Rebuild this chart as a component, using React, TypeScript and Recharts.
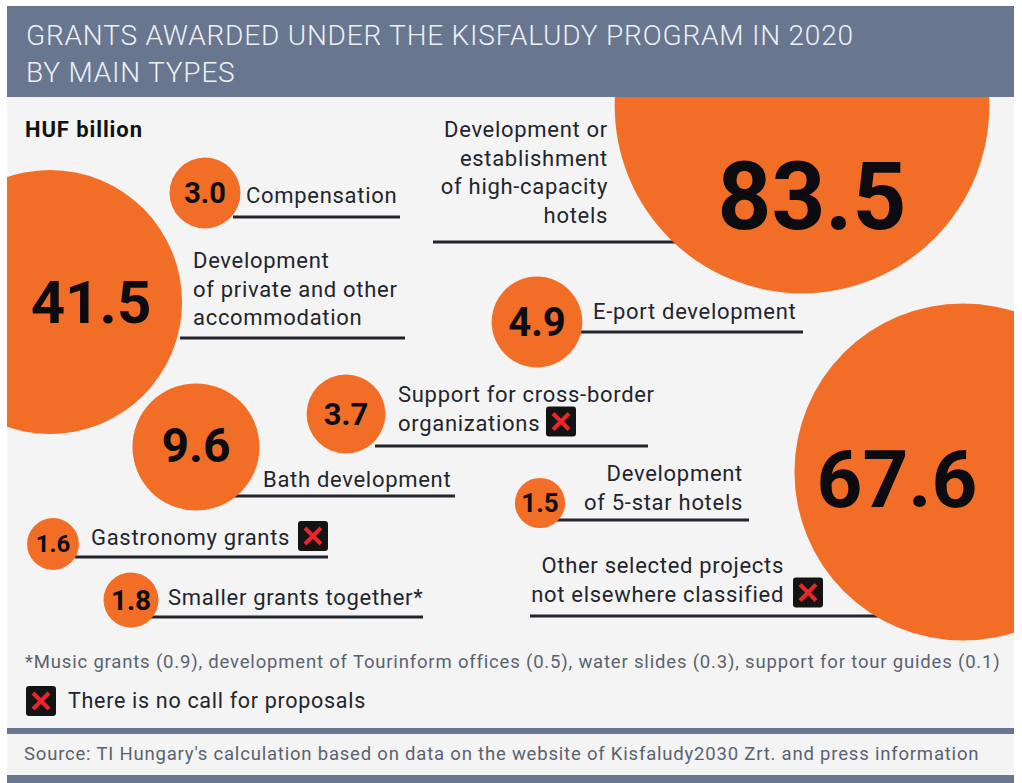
import { ScatterChart, Scatter, XAxis, YAxis, ZAxis } from "recharts";

// grant types, HUF billion
const categories = [
  "Development or establishment of high-capacity hotels",
  "Other selected projects not elsewhere classified",
  "Development of private and other accommodation",
  "Bath development",
  "E-port development",
  "Support for cross-border organizations",
  "Compensation",
  "Smaller grants together*",
  "Gastronomy grants",
  "Development of 5-star hotels",
];
const values = [83.5, 67.6, 41.5, 9.6, 4.9, 3.7, 3.0, 1.8, 1.6, 1.5];
const noCall = [false, true, false, false, false, true, false, false, true, false];
const labelLines = [
  ["Development or", "establishment", "of high-capacity", "hotels"],
  ["Other selected projects", "not elsewhere classified"],
  ["Development", "of private and other", "accommodation"],
  ["Bath development"],
  ["E-port development"],
  ["Support for cross-border", "organizations"],
  ["Compensation"],
  ["Smaller grants together*"],
  ["Gastronomy grants"],
  ["Development", "of 5-star hotels"],
];

const titleLines = ["GRANTS AWARDED UNDER THE KISFALUDY PROGRAM IN 2020", "BY MAIN TYPES"];
const unitLabel = "HUF billion";
const footnote =
  "*Music grants (0.9), development of Tourinform offices (0.5), water slides (0.3), support for tour guides (0.1)";
const legendText = "There is no call for proposals";
const sourceText =
  "Source: TI Hungary's calculation based on data on the website of Kisfaludy2030 Zrt. and press information";

// layout (page pixels)
const bubbleX = [802, 963, 50, 196, 537, 346, 205, 131, 53, 540];
const bubbleY = [106, 472, 302, 447, 322, 414, 193, 600, 544, 503];
const numberDx = [10, -66, 41, 0, 0, 0, 0, 0, 0, 0];
const numberDy = [91, 8, 0, -2, 0, 0, 0, 0, 0, 0];
const numberSize = [94, 80, 60, 48, 40, 31, 29, 28, 24, 26];
const labelX = [608, 784, 193, 263, 593, 398, 246, 168, 91, 743];
const labelY = [137, 573, 268, 487, 319, 402, 203, 605, 545, 481];
const labelAnchor = ["end", "end", "start", "start", "start", "start", "start", "start", "start", "end"];
const boxX = [0, 793, 0, 0, 0, 546, 0, 0, 298, 0];
const ruleFrom = [433, 530, 180, 230, 575, 375, 233, 150, 75, 555];
const ruleTo = [680, 880, 405, 455, 803, 648, 400, 423, 328, 749];
const ruleY = [242, 616, 338, 496, 332, 446, 217, 617, 557, 520];

const W = 1007;
const TOP = 97;
const BOTTOM = 645;
const K = 20.5; // px radius per sqrt(HUF bn)
const maxValue = Math.max(...values);

const ORANGE = "#f26e27";
const INK = "#22252c";
const SLATE = "#68778f";
const GREY_TEXT = "#5a6270";
const FONT = "Roboto, 'Noto Sans', sans-serif";
const LINE_GAP = 28.5;

const rows = categories.map((name, i) => ({
  name,
  value: values[i],
  cx: bubbleX[i],
  cy: bubbleY[i],
  lx: labelX[i],
  ly: labelY[i],
  i,
}));

const XBox = ({ x, y, size = 30 }: { x: number; y: number; size?: number }) => (
  <g>
    <rect x={x} y={y} width={size} height={size} rx={3} fill="#141414" />
    <line x1={x + 7} y1={y + 7} x2={x + size - 7} y2={y + size - 7} stroke="#e8262b" strokeWidth={4} />
    <line x1={x + size - 7} y1={y + 7} x2={x + 7} y2={y + size - 7} stroke="#e8262b" strokeWidth={4} />
  </g>
);

const LabelShape = (props: any) => {
  const { cx, cy, payload } = props;
  const i = payload.i;
  const lines = labelLines[i];
  const last = cy + (lines.length - 1) * LINE_GAP;
  return (
    <g>
      <line
        x1={cx + ruleFrom[i] - labelX[i]}
        x2={cx + ruleTo[i] - labelX[i]}
        y1={cy + ruleY[i] - labelY[i]}
        y2={cy + ruleY[i] - labelY[i]}
        stroke={INK}
        strokeWidth={3}
      />
      <text
        x={cx}
        y={cy}
        textAnchor={labelAnchor[i]}
        fontFamily={FONT}
        fontSize={22}
        letterSpacing={0.7}
        fill={INK}
      >
        {lines.map((t, j) => (
          <tspan key={j} x={cx} y={cy + j * LINE_GAP}>
            {t}
          </tspan>
        ))}
      </text>
      {noCall[i] && <XBox x={cx + boxX[i] - labelX[i]} y={last - 24} />}
    </g>
  );
};

const BubbleShape = (props: any) => {
  const { cx, cy, width, payload } = props;
  const i = payload.i;
  const r = width / 2;
  return (
    <g>
      <circle cx={cx} cy={cy} r={r} fill={ORANGE} />
      <text
        x={cx + numberDx[i]}
        y={cy + numberDy[i]}
        textAnchor="middle"
        dominantBaseline="central"
        fontFamily={FONT}
        fontWeight={700}
        fontSize={numberSize[i]}
        fill="#0c0c10"
      >
        {payload.value.toFixed(1)}
      </text>
    </g>
  );
};

export default function App() {
  return (
    <div
      style={{
        position: "absolute",
        left: 7,
        top: 6,
        width: W,
        height: 777,
        background: "#f4f4f4",
        overflow: "hidden",
        fontFamily: FONT,
      }}
    >
      <svg width={W} height={777} style={{ position: "absolute", left: 0, top: 0 }}>
        <rect x={0} y={0} width={W} height={TOP - 6} fill={SLATE} />
        {titleLines.map((t, j) => (
          <text
            key={j}
            x={19}
            y={39 + j * 37}
            fontFamily={FONT}
            fontWeight={300}
            fontSize={28}
            letterSpacing={0.8}
            fill="#eef0f4"
          >
            {t}
          </text>
        ))}
        <text x={18} y={131} fontFamily={FONT} fontWeight={700} fontSize={22} letterSpacing={0.9} fill="#111">
          {unitLabel}
        </text>
        <text x={18} y={662} fontFamily={FONT} fontSize={18.5} letterSpacing={0.82} fill={GREY_TEXT}>
          {footnote}
        </text>
        <XBox x={19} y={680} />
        <text x={61} y={702} fontFamily={FONT} fontSize={21.5} letterSpacing={0.7} fill={INK}>
          {legendText}
        </text>
        <rect x={0} y={722} width={W} height={6} fill={SLATE} />
        <text x={17} y={754} fontFamily={FONT} fontSize={18.5} letterSpacing={0.8} fill={GREY_TEXT}>
          {sourceText}
        </text>
        <rect x={0} y={769} width={W} height={8} fill={SLATE} />
      </svg>
      <div style={{ position: "absolute", left: 0, top: TOP - 6, overflow: "hidden" }}>
        <ScatterChart width={W} height={BOTTOM - TOP} margin={{ top: 0, right: 0, bottom: 0, left: 0 }}>
          <XAxis xAxisId="bubble" type="number" dataKey="cx" domain={[7, 7 + W]} hide />
          <XAxis xAxisId="label" type="number" dataKey="lx" domain={[7, 7 + W]} hide />
          <YAxis yAxisId="bubble" type="number" dataKey="cy" domain={[TOP, BOTTOM]} reversed hide />
          <YAxis yAxisId="label" type="number" dataKey="ly" domain={[TOP, BOTTOM]} reversed hide />
          <ZAxis zAxisId="bubble" type="number" dataKey="value" domain={[0, maxValue]} range={[0, Math.PI * K * K * maxValue]} />
          <ZAxis zAxisId="label" type="number" range={[1, 1]} />
          <Scatter
            data={rows}
            xAxisId="label"
            yAxisId="label"
            zAxisId="label"
            shape={LabelShape}
            isAnimationActive={false}
          />
          <Scatter
            data={rows}
            xAxisId="bubble"
            yAxisId="bubble"
            zAxisId="bubble"
            shape={BubbleShape}
            isAnimationActive={false}
          />
        </ScatterChart>
      </div>
    </div>
  );
}
